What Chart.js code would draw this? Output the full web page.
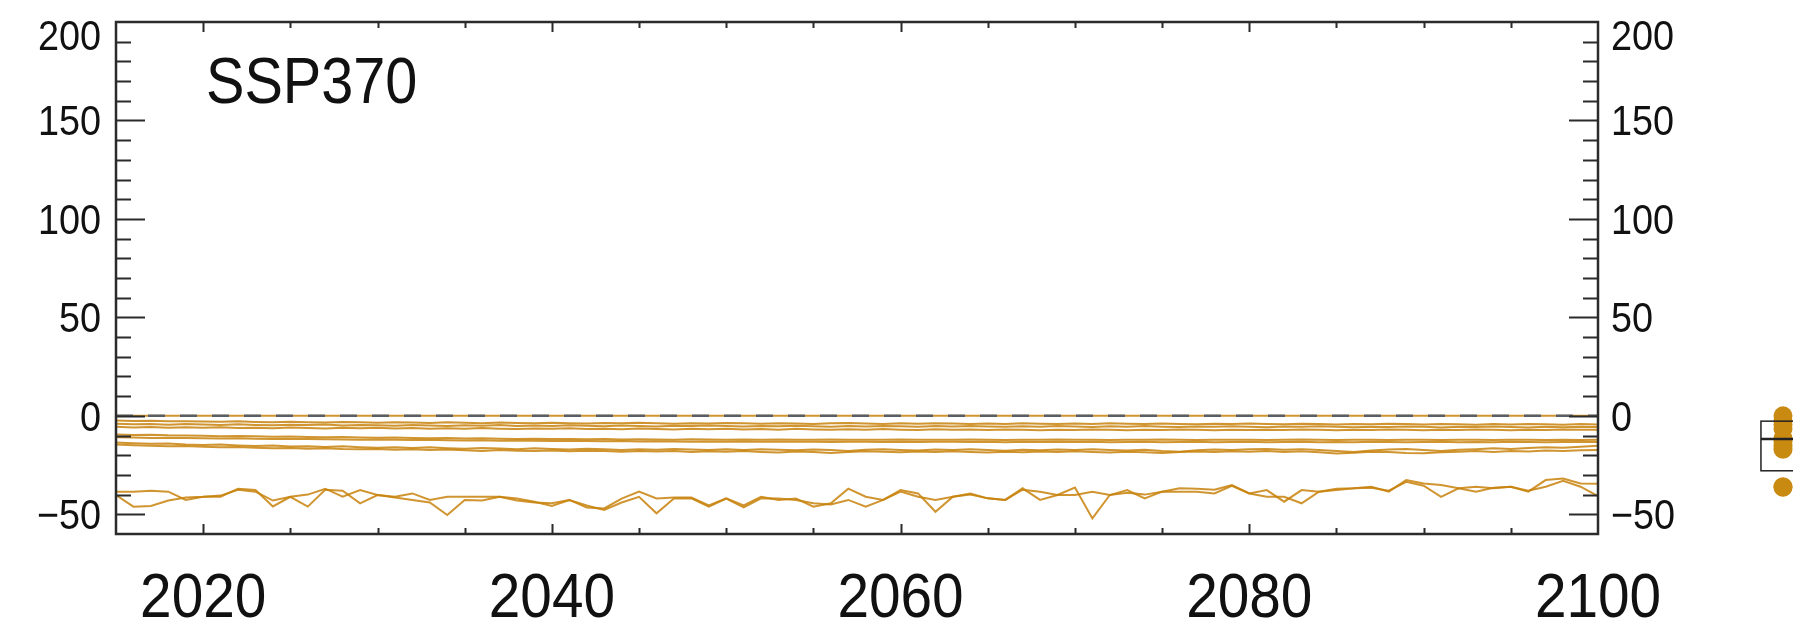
<!DOCTYPE html>
<html>
<head>
<meta charset="utf-8">
<script src="https://cdn.jsdelivr.net/npm/chart.js@4.4.1/dist/chart.umd.min.js"></script>
<style>
  html, body { margin: 0; padding: 0; background: #ffffff; }
  body { width: 1793px; height: 635px; overflow: hidden; position: relative; }
  #main { position: absolute; left: 0; top: 0; }
  #side { position: absolute; left: 1700px; top: 0; }
</style>
</head>
<body>
<canvas id="main" width="1793" height="635"></canvas>
<canvas id="side" width="166" height="635"></canvas>
<script>
// ---------------- data ----------------
const panelLabel = "SSP370";
const years = [2015,2016,2017,2018,2019,
  2020,2021,2022,2023,2024,2025,2026,2027,2028,2029,
  2030,2031,2032,2033,2034,2035,2036,2037,2038,2039,
  2040,2041,2042,2043,2044,2045,2046,2047,2048,2049,
  2050,2051,2052,2053,2054,2055,2056,2057,2058,2059,
  2060,2061,2062,2063,2064,2065,2066,2067,2068,2069,
  2070,2071,2072,2073,2074,2075,2076,2077,2078,2079,
  2080,2081,2082,2083,2084,2085,2086,2087,2088,2089,
  2090,2091,2092,2093,2094,2095,2096,2097,2098,2099,
  2100];
const xTickLabels = [2020, 2040, 2060, 2080, 2100];
const yTickLabels = [-50, 0, 50, 100, 150, 200];

const model0 = [0,0,0,0,0,
  0,0,0,0,0,0,0,0,0,0,
  0,0,0,0,0,0,0,0,0,0,
  0,0,0,0,0,0,0,0,0,0,
  0,0,0,0,0,0,0,0,0,0,
  0,0,0,0,0,0,0,0,0,0,
  0,0,0,0,0,0,0,0,0,0,
  0,0,0,0,0,0,0,0,0,0,
  0,0,0,0,0,0,0,0,0,0,
  0];
const model1 = [-2.4,-2.6,-2.5,-2.8,-2.7,
  -2.9,-3.0,-2.8,-3.1,-3.3,-3.0,-3.2,-3.4,-3.1,-3.3,
  -3.5,-3.2,-3.4,-3.6,-3.3,-3.5,-3.7,-3.4,-3.6,-3.8,
  -3.5,-3.7,-3.9,-3.6,-3.8,-3.5,-3.7,-4.0,-3.7,-3.9,
  -3.6,-3.8,-4.0,-3.7,-3.9,-4.1,-3.8,-3.6,-3.9,-4.1,
  -3.8,-4.0,-3.7,-3.9,-4.2,-3.9,-4.1,-3.8,-4.0,-4.2,
  -3.9,-4.1,-3.8,-4.0,-4.2,-3.9,-4.1,-4.3,-4.0,-4.2,
  -3.9,-4.1,-4.3,-4.0,-4.2,-4.4,-4.1,-4.3,-4.0,-4.2,
  -4.4,-4.1,-4.3,-4.5,-4.2,-4.4,-4.1,-4.3,-4.5,-4.2,
  -4.4];
const model2 = [-4.0,-4.3,-4.1,-4.5,-4.2,
  -4.4,-4.7,-4.3,-4.6,-4.8,-4.5,-4.7,-4.4,-4.9,-4.6,
  -4.8,-5.0,-4.7,-4.9,-5.1,-4.8,-5.0,-4.7,-5.2,-4.9,
  -5.1,-4.8,-5.0,-5.3,-4.9,-5.1,-5.4,-5.0,-5.2,-4.9,
  -5.2,-5.4,-5.1,-5.3,-5.0,-5.3,-5.5,-5.2,-5.4,-5.1,
  -5.3,-5.6,-5.2,-5.4,-5.1,-5.4,-5.6,-5.3,-5.5,-5.2,
  -5.4,-5.7,-5.3,-5.5,-5.2,-5.5,-5.7,-5.4,-5.6,-5.3,
  -5.5,-5.8,-5.4,-5.6,-5.3,-5.6,-5.8,-5.5,-5.7,-5.4,
  -5.6,-5.9,-5.5,-5.7,-5.4,-5.7,-5.9,-5.6,-5.8,-5.5,
  -5.7];
const model3 = [-5.6,-5.9,-5.7,-6.0,-5.8,
  -6.1,-5.8,-6.2,-6.0,-6.3,-5.9,-6.2,-6.4,-6.1,-6.3,
  -6.0,-6.4,-6.2,-6.5,-6.3,-6.6,-6.2,-6.5,-6.7,-6.4,
  -6.6,-6.3,-6.7,-6.5,-6.8,-6.4,-6.7,-6.9,-6.6,-6.8,
  -6.5,-6.9,-6.7,-7.0,-6.6,-6.9,-7.1,-6.8,-7.0,-6.7,
  -7.0,-7.2,-6.8,-7.1,-6.9,-7.2,-6.9,-7.1,-7.3,-7.0,
  -7.2,-6.9,-7.1,-7.3,-7.0,-7.2,-6.9,-7.1,-7.3,-7.0,
  -7.2,-7.0,-7.2,-6.9,-7.1,-7.3,-7.0,-7.2,-6.9,-7.1,
  -7.3,-7.0,-7.2,-6.9,-7.1,-7.3,-7.0,-7.2,-6.9,-7.1,
  -7.0];
const model4 = [-9.5,-9.7,-9.6,-9.9,-10.0,
  -10.1,-10.3,-10.2,-10.4,-10.6,-10.5,-10.7,-10.9,-10.8,-11.0,
  -11.1,-11.0,-11.2,-11.4,-11.3,-11.5,-11.4,-11.6,-11.7,-11.6,
  -11.8,-11.7,-11.9,-11.8,-12.0,-11.9,-12.0,-12.1,-11.9,-12.0,
  -12.1,-12.0,-12.2,-12.0,-12.1,-12.2,-12.0,-12.1,-12.2,-12.1,
  -12.0,-12.2,-12.1,-12.2,-12.0,-12.1,-12.3,-12.1,-12.2,-12.0,
  -12.2,-12.1,-12.3,-12.1,-12.2,-12.0,-12.2,-12.3,-12.1,-12.2,
  -12.1,-12.3,-12.2,-12.0,-12.2,-12.3,-12.1,-12.2,-12.3,-12.1,
  -12.2,-12.3,-12.1,-12.2,-12.3,-12.2,-12.1,-12.3,-12.2,-12.3,
  -12.2];
const model5 = [-10.9,-11.0,-11.2,-11.1,-11.3,
  -11.4,-11.5,-11.4,-11.6,-11.7,-11.8,-11.7,-11.9,-12.0,-12.1,
  -12.0,-12.2,-12.3,-12.2,-12.4,-12.5,-12.4,-12.6,-12.5,-12.7,
  -12.8,-12.7,-12.8,-12.9,-12.8,-13.0,-12.9,-13.0,-13.1,-13.0,
  -13.1,-13.0,-13.2,-13.1,-13.2,-13.1,-13.3,-13.2,-13.1,-13.3,
  -13.2,-13.3,-13.1,-13.2,-13.3,-13.2,-13.4,-13.2,-13.3,-13.2,
  -13.3,-13.2,-13.4,-13.3,-13.2,-13.4,-13.3,-13.2,-13.4,-13.3,
  -13.2,-13.4,-13.3,-13.2,-13.4,-13.3,-13.4,-13.2,-13.3,-13.4,
  -13.3,-13.2,-13.4,-13.3,-13.4,-13.2,-13.3,-13.4,-13.3,-13.2,
  -13.3];
const model6 = [-13.5,-13.9,-14.2,-14.0,-14.5,
  -14.8,-14.6,-15.0,-15.3,-15.1,-15.6,-15.4,-15.8,-15.5,-15.9,
  -16.2,-15.9,-16.3,-16.0,-16.4,-16.7,-16.3,-16.6,-16.9,-16.5,
  -16.8,-17.1,-16.7,-17.0,-17.3,-16.9,-17.2,-16.8,-17.1,-17.4,
  -17.0,-17.3,-16.9,-17.2,-17.5,-17.1,-17.4,-17.8,-17.2,-17.0,
  -17.3,-17.6,-17.1,-17.4,-17.0,-17.3,-17.7,-17.2,-17.5,-17.1,
  -17.4,-17.0,-17.3,-17.6,-17.2,-17.9,-18.2,-17.5,-17.1,-17.3,
  -17.0,-16.8,-17.2,-16.9,-17.4,-17.8,-18.3,-17.6,-17.1,-16.8,
  -17.3,-17.8,-17.2,-16.9,-16.5,-16.8,-16.3,-15.9,-16.2,-15.7,
  -15.2];
const model7 = [-14.6,-14.9,-15.2,-15.5,-15.3,
  -15.7,-16.0,-15.8,-16.2,-16.5,-16.3,-16.7,-16.4,-16.8,-17.0,
  -16.8,-17.2,-17.0,-17.4,-17.1,-17.5,-17.8,-17.4,-17.7,-17.9,
  -17.6,-18.0,-17.7,-17.9,-18.2,-17.8,-18.1,-17.8,-18.3,-18.0,
  -18.2,-17.9,-18.3,-18.6,-18.1,-18.4,-18.9,-18.3,-18.0,-18.2,
  -18.5,-18.1,-18.4,-18.0,-18.3,-18.6,-18.2,-18.5,-18.1,-18.4,
  -18.0,-18.3,-18.6,-18.2,-18.5,-18.9,-18.4,-18.1,-18.3,-18.0,
  -18.2,-17.9,-18.3,-18.0,-18.5,-19.1,-18.8,-18.2,-18.4,-18.9,
  -19.0,-18.5,-18.2,-17.9,-18.3,-17.8,-18.1,-17.6,-17.9,-17.5,
  -17.4];
const model8 = [-38.5,-38.5,-38.0,-38.5,-42.7,
  -41.1,-41.1,-37.0,-37.7,-46.0,-41.1,-40.0,-37.0,-41.1,-37.7,
  -40.2,-41.1,-39.4,-42.7,-41.1,-41.1,-41.1,-41.1,-43.0,-44.0,
  -44.4,-42.7,-46.5,-47.0,-42.0,-38.5,-42.0,-41.5,-41.5,-45.5,
  -41.9,-45.5,-41.1,-42.7,-42.0,-46.1,-44.4,-37.0,-41.1,-42.7,
  -37.7,-39.4,-48.7,-41.1,-39.4,-41.9,-42.7,-36.8,-42.7,-40.2,
  -36.4,-52.1,-40.2,-37.7,-41.9,-38.5,-36.8,-37.0,-37.5,-35.2,
  -39.4,-37.7,-43.6,-37.7,-38.5,-37.0,-36.8,-36.0,-38.5,-32.6,
  -34.3,-35.1,-36.8,-36.0,-36.8,-36.0,-38.5,-32.6,-31.8,-34.3,
  -34.5];
const model9 = [-40.2,-46.1,-45.8,-43.0,-41.5,
  -41.1,-40.5,-37.5,-38.5,-43.0,-41.1,-46.1,-37.5,-38.0,-44.4,
  -40.2,-41.5,-42.7,-44.0,-50.4,-42.7,-43.0,-41.1,-42.0,-43.6,
  -45.8,-42.7,-45.5,-47.8,-44.0,-41.1,-49.5,-42.0,-41.9,-46.1,
  -42.0,-46.5,-41.9,-42.0,-42.7,-44.4,-45.0,-42.7,-46.1,-42.7,
  -38.5,-41.1,-42.7,-41.1,-40.0,-41.9,-42.7,-37.5,-38.5,-40.2,
  -40.2,-38.5,-40.2,-39.0,-40.0,-38.5,-38.5,-38.5,-39.4,-35.5,
  -39.4,-41.1,-41.1,-44.4,-38.5,-37.7,-36.8,-36.5,-38.0,-33.5,
  -35.5,-41.1,-36.8,-38.5,-36.5,-36.0,-38.0,-36.0,-33.0,-36.0,
  -40.8];
const zeroLine = [0, 0];
const zeroLineYears = [2015, 2100];

// side panel: end-of-century values per model and their box summary
const endValues = [0, -2.5, -4.5, -6.5, -11.5, -13, -15, -17, -36, -36.3];
const boxQ1 = -27.9;
const boxMedian = -11.8;
const boxQ3 = -2.7;

// ---------------- styles ----------------
const ORANGE = 'rgba(200,130,12,0.85)';
const DOT = '#c98a12';
const AXIS = '#2b2b2b';
const FONT = '"Liberation Sans", Arial, Helvetica, sans-serif';
const NARROW = 0.9;   // horizontal squeeze of the lettering

const models = [model0, model1, model2, model3, model4, model5, model6, model7, model8, model9];
const pts = (ys, xs) => ys.map((v, i) => ({ x: xs[i], y: v }));

const datasets = [{
  data: pts(zeroLine, zeroLineYears),
  borderColor: '#5a5e66', borderWidth: 2.5, borderDash: [17, 15],
  pointRadius: 0, order: 0
}].concat(models.map(m => ({
  data: pts(m, years),
  borderColor: ORANGE, borderWidth: 2, pointRadius: 0, tension: 0, order: 1
})));

const minus = v => (v < 0 ? '\u2212' + Math.abs(v) : String(v));

function narrowText(ctx, text, x, y, size, align) {
  ctx.save();
  ctx.font = size + 'px ' + FONT;
  ctx.textAlign = align;
  ctx.textBaseline = 'alphabetic';
  ctx.translate(x, y);
  ctx.scale(NARROW, 1);
  ctx.fillText(text, 0, 0);
  ctx.restore();
}

const frameTicks = {
  id: 'frameTicks',
  afterDraw(chart) {
    const { ctx, chartArea: a, scales } = chart;
    const xs = scales.x, ys = scales.y, ys2 = scales.y2;
    ctx.save();
    ctx.strokeStyle = AXIS;
    ctx.lineWidth = 2;
    ctx.beginPath();
    for (let v = ys.min + 10; v < ys.max; v += 10) {
      const p = Math.round(ys.getPixelForValue(v)) + 0.5;
      const len = (v % 50 === 0) ? 29 : 15;
      ctx.moveTo(a.left, p); ctx.lineTo(a.left + len, p);
      ctx.moveTo(a.right, p); ctx.lineTo(a.right - len, p);
    }
    for (let yr = 2020; yr < xs.max; yr += 5) {
      const p = Math.round(xs.getPixelForValue(yr)) + 0.5;
      const len = (yr % 20 === 0) ? 10 : 6;
      ctx.moveTo(p, a.bottom); ctx.lineTo(p, a.bottom - len);
      ctx.moveTo(p, a.top); ctx.lineTo(p, a.top + len);
    }
    ctx.stroke();
    ctx.lineWidth = 2.5;
    ctx.strokeRect(a.left, a.top, a.right - a.left, a.bottom - a.top);

    // tick labels from the scales' own tick lists
    ctx.fillStyle = '#111';
    const ySize = 42, yCap = 30;
    ys.ticks.forEach(t => {
      const p = ys.getPixelForValue(t.value);
      const base = Math.max(p + yCap / 2, a.top - 2 + yCap);
      narrowText(ctx, minus(t.value), a.left - 15, base, ySize, 'right');
    });
    ys2.ticks.forEach(t => {
      const p = ys2.getPixelForValue(t.value);
      const base = Math.max(p + yCap / 2, a.top - 2 + yCap);
      narrowText(ctx, minus(t.value), a.right + 13, base, ySize, 'left');
    });
    xs.ticks.forEach(t => {
      const p = xs.getPixelForValue(t.value);
      narrowText(ctx, String(t.value), p, a.bottom + 83, 63, 'center');
    });
    narrowText(ctx, panelLabel, a.left + 90, a.top + 81, 64, 'left');
    ctx.restore();
  }
};

const yScaleBase = {
  type: 'linear', min: -60, max: 200,
  grid: { display: false, drawTicks: false },
  border: { display: false },
  afterBuildTicks: s => { s.ticks = yTickLabels.map(v => ({ value: v })); },
  ticks: { display: false }
};

new Chart(document.getElementById('main'), {
  type: 'line',
  data: { datasets },
  options: {
    responsive: false, animation: false,
    layout: { padding: { top: 22, left: 0, right: 0, bottom: 0 } },
    plugins: { legend: { display: false }, tooltip: { enabled: false } },
    scales: {
      x: {
        type: 'linear', min: 2015, max: 2100, position: 'bottom',
        grid: { display: false, drawTicks: false }, border: { display: false },
        afterBuildTicks: s => { s.ticks = xTickLabels.map(v => ({ value: v })); },
        ticks: { display: false },
        afterFit: s => { s.height = 101; s.paddingLeft = 0; s.paddingRight = 0; }
      },
      y: Object.assign({}, yScaleBase, {
        position: 'left',
        afterFit: s => { s.width = 116; s.paddingTop = 0; s.paddingBottom = 0; }
      }),
      y2: Object.assign({}, yScaleBase, {
        position: 'right',
        afterFit: s => { s.width = 195; s.paddingTop = 0; s.paddingBottom = 0; }
      })
    }
  },
  plugins: [frameTicks]
});

// ---------------- side box plot ----------------
const boxPlot = {
  id: 'boxPlot',
  afterDatasetsDraw(chart) {
    const { ctx, scales } = chart;
    const xs = scales.x, ys = scales.y;
    const l = xs.getPixelForValue(-0.3), r = xs.getPixelForValue(0.3);
    const t = ys.getPixelForValue(boxQ3), b = ys.getPixelForValue(boxQ1);
    const m = ys.getPixelForValue(boxMedian);
    ctx.save();
    ctx.strokeStyle = '#222';
    ctx.lineWidth = 1.5;
    ctx.strokeRect(l, t, r - l, b - t);
    ctx.lineWidth = 2.5;
    ctx.beginPath(); ctx.moveTo(l, m); ctx.lineTo(r, m); ctx.stroke();
    ctx.restore();
  }
};

new Chart(document.getElementById('side'), {
  type: 'scatter',
  data: { datasets: [{
    data: endValues.map(v => ({ x: 0, y: v })),
    backgroundColor: DOT, borderColor: DOT, pointRadius: 9.5, borderWidth: 0
  }] },
  options: {
    responsive: false, animation: false,
    layout: { padding: { top: 22, bottom: 101, left: 0, right: 0 } },
    plugins: { legend: { display: false }, tooltip: { enabled: false } },
    scales: {
      x: { type: 'linear', min: -1, max: 1, display: false },
      y: { type: 'linear', min: -60, max: 200, display: false }
    }
  },
  plugins: [boxPlot]
});
</script>
</body>
</html>
